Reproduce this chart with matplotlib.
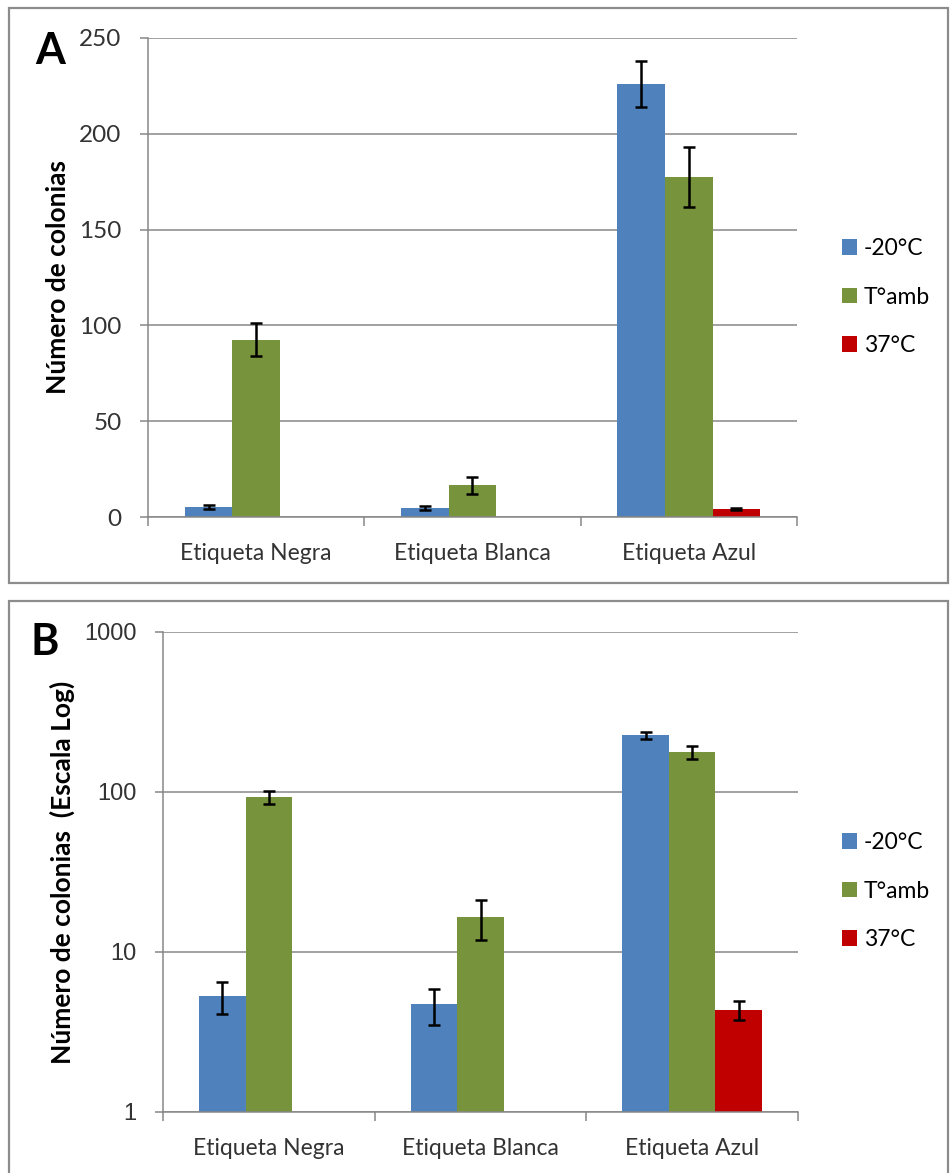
# Número de colonias por etiqueta y temperatura (A: lineal, B: escala log)
import numpy as np
import matplotlib.pyplot as plt
from matplotlib.patches import Rectangle

plt.rcParams['font.family'] = ['Lato', 'DejaVu Sans']

# Datos
etiquetas = ["Etiqueta Negra", "Etiqueta Blanca", "Etiqueta Azul"]
series = ["-20°C", "T°amb", "37°C"]

frio = [5.3, 4.7, 226]
frio_err = [1.2, 1.2, 12]
ambiente = [92.5, 16.5, 177.5]
ambiente_err = [8.5, 4.6, 15.7]
calor = [np.nan, np.nan, 4.35]
calor_err = [np.nan, np.nan, 0.6]

colores = ["#4F81BD", "#77933C", "#C00000"]
gris = "#878787"

valores = [frio, ambiente, calor]
errores = [frio_err, ambiente_err, calor_err]

W, H = 950, 1173
fig = plt.figure(figsize=(W / 100, H / 100), dpi=100)

# marcos grises de cada panel
fig.add_artist(Rectangle((9 / W, 1 - 583 / H), 939 / W, 575 / H,
                         transform=fig.transFigure, fill=False,
                         edgecolor="#8c8c8c", lw=1.6))
fig.add_artist(Rectangle((9 / W, -0.02), 939 / W, 1 - 601 / H + 0.02,
                         transform=fig.transFigure, fill=False,
                         edgecolor="#8c8c8c", lw=1.6))

# posiciones de los ejes en píxeles: izquierda, arriba, derecha, abajo
paneles = [
    dict(caja=(148, 38, 797, 517), log=False, letra="A", letra_xy=(50, 51),
         ylabel="Número de colonias", ylabel_x=70, leyenda_y=297),
    dict(caja=(163, 632, 798, 1112), log=True, letra="B", letra_xy=(45, 642),
         ylabel="Número de colonias  (Escala Log)", ylabel_x=75, leyenda_y=891),
]

x = np.arange(len(etiquetas))
ancho = 0.22

for p in paneles:
    l, t, r, b = p["caja"]
    ax = fig.add_axes([l / W, 1 - b / H, (r - l) / W, (b - t) / H])

    for i, (vals, errs) in enumerate(zip(valores, errores)):
        pos = x + (i - 1) * ancho
        ax.bar(pos, vals, width=ancho, color=colores[i], label=series[i],
               zorder=2)
        ax.errorbar(pos, vals, yerr=errs, fmt="none", ecolor="black",
                    elinewidth=1.8, capsize=4.3, capthick=1.8, zorder=3)

    ax.set_xlim(-0.5, 2.5)
    if p["log"]:
        ax.set_yscale("log")
        ax.set_ylim(1, 1000)
        ax.set_yticks([1, 10, 100, 1000])
        ax.set_yticklabels(["1", "10", "100", "1000"])
        ax.minorticks_off()
        fuente_y = dict(family=["Liberation Sans", "DejaVu Sans"], size=17)
    else:
        ax.set_ylim(0, 250)
        ax.set_yticks(range(0, 251, 50))
        fuente_y = dict(family=["Lato", "DejaVu Sans"], size=17.5)

    for lab in ax.get_yticklabels():
        lab.set_fontfamily(fuente_y["family"])
        lab.set_fontsize(fuente_y["size"])
        lab.set_color("#333333")

    ax.grid(axis="y", color=gris, lw=1.1, zorder=0)
    ax.set_axisbelow(True)
    for lado in ["top", "right"]:
        ax.spines[lado].set_visible(False)
    for lado in ["left", "bottom"]:
        ax.spines[lado].set_color(gris)
        ax.spines[lado].set_linewidth(1.1)

    ax.tick_params(axis="y", length=6, width=1.1, color=gris, pad=13)

    # marcas del eje x entre categorías
    ax.set_xticks(x)
    ax.set_xticklabels(etiquetas, family=["Lato", "DejaVu Sans"],
                       size=16.5, color="#333333")
    ax.set_xticks([-0.5, 0.5, 1.5, 2.5], minor=True)
    ax.tick_params(axis="x", which="major", length=0, pad=19)
    ax.tick_params(axis="x", which="minor", length=6.5, width=1.1, color=gris)

    ax.set_ylabel(p["ylabel"], fontsize=19, fontweight="bold", color="black")
    ax.yaxis.set_label_coords((p["ylabel_x"] - l) / (r - l), 0.5)

    fig.text(p["letra_xy"][0] / W, 1 - p["letra_xy"][1] / H, p["letra"],
             fontsize=31, fontweight="bold", ha="center", va="center")

    ax.legend(loc="center left", bbox_to_anchor=(842 / W, 1 - p["leyenda_y"] / H),
              bbox_transform=fig.transFigure, frameon=False, fontsize=16.5,
              borderpad=0, borderaxespad=0, handlelength=0.65,
              handleheight=0.65, handletextpad=0.3, labelspacing=1.2)

fig.savefig("out.png", dpi=100)
